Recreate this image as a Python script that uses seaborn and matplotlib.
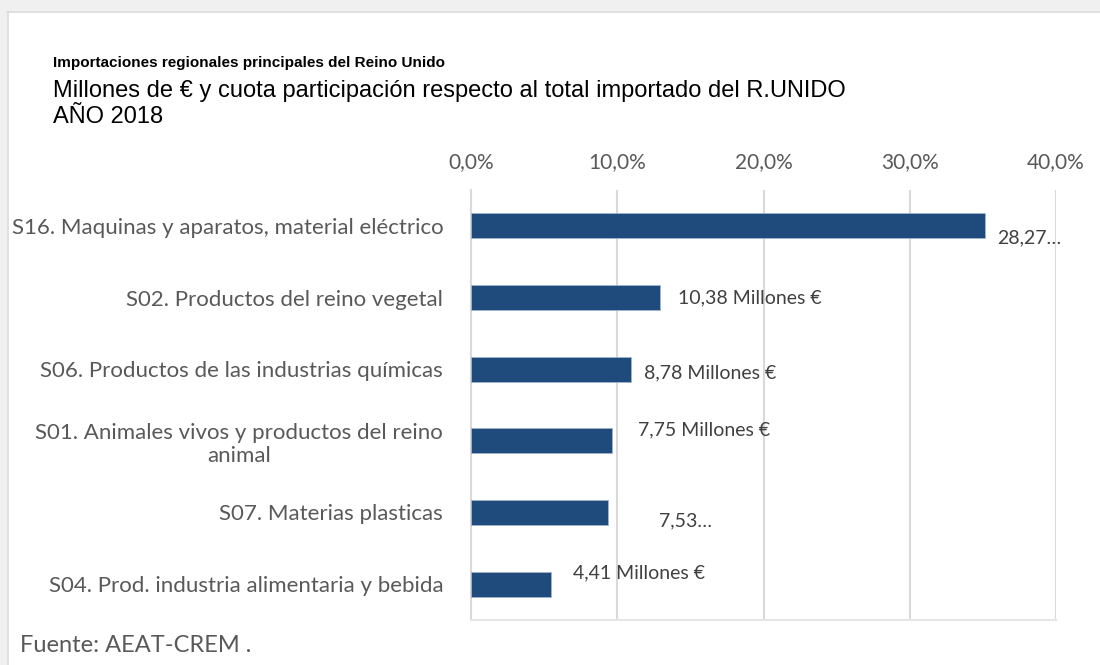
import matplotlib
matplotlib.use("Agg")
import matplotlib.pyplot as plt
import seaborn as sns
from matplotlib.patches import Rectangle
from matplotlib.ticker import FuncFormatter

# ---- data ----
categories = [
    "S16. Maquinas y aparatos, material eléctrico",
    "S02. Productos del reino vegetal",
    "S06. Productos de las industrias químicas",
    "S01. Animales vivos y productos del reino\nanimal",
    "S07. Materias plasticas",
    "S04. Prod. industria alimentaria y bebida",
]
shares = [35.16, 12.91, 10.92, 9.64, 9.37, 5.49]          # % of total imports
value_labels = ["28,27…", "10,38 Millones €", "8,78 Millones €",
                "7,75 Millones €", "7,53…", "4,41 Millones €"]
x_ticks = [0, 10, 20, 30, 40]

# label offsets (pixels) as placed in the original
label_dx = [12, 18, 13, 26, 51, 22]
label_dy = [-12, 0, -4, 11, -8, 11]

sns.set_theme(style="white")
plt.rcParams["font.family"] = ["Lato", "DejaVu Sans"]

W, H = 1100, 665
fig = plt.figure(figsize=(W / 100, H / 100), dpi=100, facecolor="white")

# outer gray frame strips
fig.patches.append(Rectangle((0, 1 - 11 / H), 1, 11 / H, transform=fig.transFigure,
                             facecolor="#F0F0F0", edgecolor="none", zorder=0))
fig.patches.append(Rectangle((0, 0), 7 / W, 1, transform=fig.transFigure,
                             facecolor="#F0F0F0", edgecolor="none", zorder=0))
fig.lines.append(plt.Line2D([7 / W, 1], [1 - 11.5 / H, 1 - 11.5 / H], transform=fig.transFigure,
                            color="#DADADA", linewidth=1.2))
fig.lines.append(plt.Line2D([7.5 / W, 7.5 / W], [0, 1 - 11.5 / H], transform=fig.transFigure,
                            color="#DADADA", linewidth=1.2))

ax = fig.add_axes([471 / W, 1 - 620 / H, (1056 - 471) / W, (620 - 190) / H])
ax.set_facecolor("white")

sns.barplot(x=shares, y=categories, orient="h", color="#1F4A7C", width=0.35,
            edgecolor="#9DB3CF", linewidth=0.6, saturation=1, ax=ax, zorder=3)

ax.set_xlim(0, 40)
ax.set_xticks(x_ticks)
ax.xaxis.set_major_formatter(FuncFormatter(lambda v, p: f"{v:.1f}%".replace(".", ",")))
ax.xaxis.tick_top()
ax.tick_params(axis="x", length=0, pad=13, labelsize=15, labelcolor="#595959")
ax.tick_params(axis="y", length=0, pad=20, labelsize=16, labelcolor="#595959")
for lab in ax.get_yticklabels():
    lab.set_multialignment("center")
ax.set_xlabel("")
ax.set_ylabel("")

ax.grid(axis="x", color="#D9D9D9", linewidth=1.5, zorder=0)
ax.grid(axis="y", visible=False)
for s in ["top", "right"]:
    ax.spines[s].set_visible(False)
ax.spines["left"].set_color("#D9D9D9")
ax.spines["left"].set_linewidth(1.5)
ax.spines["bottom"].set_color("#E6E6E6")
ax.spines["bottom"].set_linewidth(1.5)

for i, (v, t) in enumerate(zip(shares, value_labels)):
    ax.annotate(t, xy=(v, i), xytext=(label_dx[i], label_dy[i]), textcoords="offset pixels",
                ha="left", va="center", fontsize=14, color="#404040", zorder=5)

# titles
fig.text(53 / W, 1 - 67 / H, "Importaciones regionales principales del Reino Unido",
         family="Liberation Sans", fontweight="bold", fontsize=11, color="black", va="baseline")
fig.text(53 / W, 1 - 97 / H,
         "Millones de € y cuota participación respecto al total importado del R.UNIDO",
         family="Liberation Sans", fontsize=17, color="black", va="baseline")
fig.text(53 / W, 1 - 123 / H, "AÑO 2018",
         family="Liberation Sans", fontsize=17, color="black", va="baseline")
fig.text(20 / W, 1 - 645 / H, "Fuente: AEAT-CREM .", fontsize=17, color="#595959", va="center")

fig.savefig("out.png", dpi=100, facecolor="white")
